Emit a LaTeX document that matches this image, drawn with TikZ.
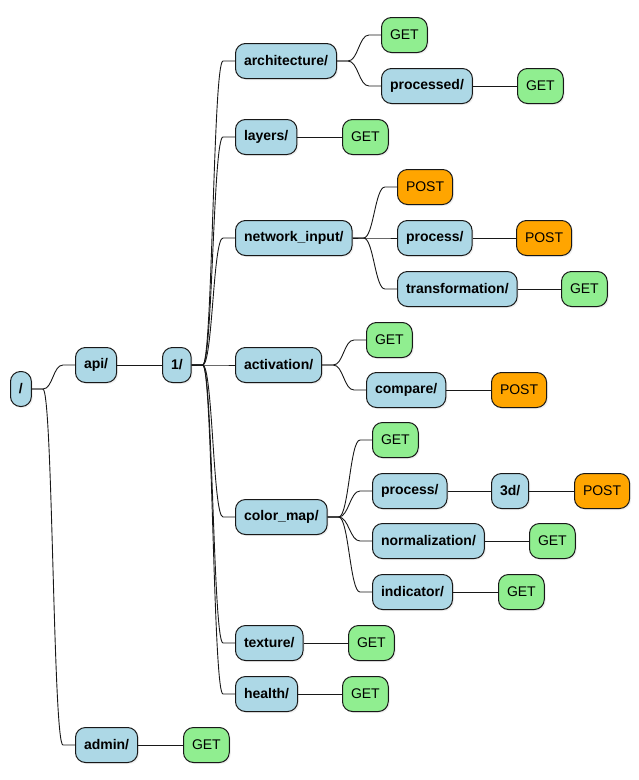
\documentclass[tikz,border=0pt]{standalone}
\usepackage{fontspec}
\setmainfont{Liberation Sans}
\usetikzlibrary{calc,shadows}

\definecolor{dirblue}{HTML}{ADD8E6}
\definecolor{getgreen}{HTML}{90EE90}
\definecolor{postorange}{HTML}{FFA500}
\definecolor{edgeline}{HTML}{181818}

\tikzset{
  box/.style={draw=edgeline, line width=1pt, rounded corners=10pt,
    minimum height=35pt, inner xsep=8.5pt, inner ysep=0pt, anchor=west,
    font=\fontsize{14pt}{16pt}\selectfont,
    drop shadow={shadow xshift=1.5pt, shadow yshift=-1.5pt, opacity=0.12}},
  dir/.style={box, fill=dirblue, font=\fontsize{14pt}{16pt}\selectfont\bfseries},
  getm/.style={box, fill=getgreen},
  postm/.style={box, fill=postorange},
  link/.style={draw=edgeline, line width=0.9pt},
}

% straight connector for an only child
\newcommand\solo[2]{\draw[link] (#1.east) -- (#2.west);}
% forked connector: short stub, S-curve, short stub
\newcommand\fork[2]{\draw[link] (#1.east) -- ++(11pt,0)
  .. controls +(10pt,0) and +(-10pt,0) .. ($(#2.west)+(-12pt,0)$) -- (#2.west);}

\begin{document}
\begin{tikzpicture}[x=1pt,y=-1pt]
\useasboundingbox (0,0) rectangle (639,780);

% tree nodes
\node[dir] (root) at (10,389) {/};
\node[dir] (api) at (75,365) {api/};
\node[dir] (v1) at (162,365) {1/};
\node[dir] (admin) at (75,745) {admin/};
\node[getm] (adminget) at (183,745) {GET};

\node[dir] (arch) at (235,61) {architecture/};
\node[getm] (archget) at (381,35) {GET};
\node[dir] (processed) at (381,86) {processed/};
\node[getm] (processedget) at (517,86) {GET};

\node[dir] (layers) at (235,137) {layers/};
\node[getm] (layersget) at (342,137) {GET};

\node[dir] (netin) at (235,238) {network\_input/};
\node[postm] (netinpost) at (397,187) {POST};
\node[dir] (netproc) at (397,238) {process/};
\node[postm] (netprocpost) at (516,238) {POST};
\node[dir] (transf) at (397,289) {transformation/};
\node[getm] (transfget) at (561,289) {GET};

\node[dir] (activ) at (235,365) {activation/};
\node[getm] (activget) at (366,340) {GET};
\node[dir] (compare) at (366,390) {compare/};
\node[postm] (comparepost) at (491,390) {POST};

\node[dir] (cmap) at (235,517) {color\_map/};
\node[getm] (cmapget) at (372,440) {GET};
\node[dir] (cmproc) at (372,491) {process/};
\node[dir] (threed) at (491,491) {3d/};
\node[postm] (threedpost) at (574,491) {POST};
\node[dir] (norm) at (372,541) {normalization/};
\node[getm] (normget) at (529,541) {GET};
\node[dir] (indic) at (372,592) {indicator/};
\node[getm] (indicget) at (498,592) {GET};

\node[dir] (texture) at (235,643) {texture/};
\node[getm] (textureget) at (348,643) {GET};
\node[dir] (health) at (235,694) {health/};
\node[getm] (healthget) at (342,694) {GET};

% connectors
\fork{root}{api}
\fork{root}{admin}
\solo{api}{v1}
\solo{admin}{adminget}

\foreach \c in {arch,layers,netin,activ,cmap,texture,health} {\fork{v1}{\c}}

\fork{arch}{archget}
\fork{arch}{processed}
\solo{processed}{processedget}
\solo{layers}{layersget}

\fork{netin}{netinpost}
\fork{netin}{netproc}
\fork{netin}{transf}
\solo{netproc}{netprocpost}
\solo{transf}{transfget}

\fork{activ}{activget}
\fork{activ}{compare}
\solo{compare}{comparepost}

\fork{cmap}{cmapget}
\fork{cmap}{cmproc}
\fork{cmap}{norm}
\fork{cmap}{indic}
\solo{cmproc}{threed}
\solo{threed}{threedpost}
\solo{norm}{normget}
\solo{indic}{indicget}

\solo{texture}{textureget}
\solo{health}{healthget}
\end{tikzpicture}
\end{document}
